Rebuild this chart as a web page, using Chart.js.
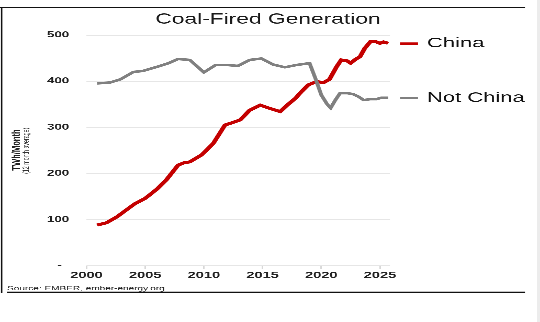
<!DOCTYPE html>
<html>
<head>
<meta charset="utf-8">
<title>Coal-Fired Generation</title>
<script src="https://cdn.jsdelivr.net/npm/chart.js@4.4.1/dist/chart.umd.min.js"></script>
<style>
  html, body { margin: 0; padding: 0; background: #fff; }
  #frame { position: relative; width: 540px; height: 322px; overflow: hidden; background: #fff; }
  #frame::after { content: ""; position: absolute; top: 0; right: 0; width: 3px; height: 322px; background: #ececec; }
  /* the source picture is stretched sideways, so the chart is drawn narrow and widened */
  #stretch { width: 344px; height: 322px; transform: scaleX(1.5698); transform-origin: 0 0; }
</style>
</head>
<body>
<div id="frame"><div id="stretch"><canvas id="chart"></canvas></div></div>
<script>
// ---- data (TWh per month, 12 month average) ----
const titleText = "Coal-Fired Generation";
const sourceText = "Source: EMBER, ember-energy.org";
const yTitle = "TWh/Month";
const ySubTitle = "(12 month average)";

const chinaName = "China";
const chinaYears = [2000.9, 2001.7, 2002.6, 2003.4, 2004.1, 2005.0, 2006.0, 2006.8, 2007.8, 2008.3,
  2008.8, 2009.8, 2010.8, 2011.8, 2012.3, 2013.1, 2013.9, 2014.8, 2015.6, 2016.5,
  2017.1, 2017.8, 2018.3, 2018.9, 2019.6, 2020.2, 2020.7, 2021.3, 2021.7, 2022.2,
  2022.5, 2022.9, 2023.3, 2023.7, 2024.2, 2024.6, 2025.0, 2025.3, 2025.7];
const chinaValues = [88, 93, 106, 121, 134, 146, 166, 186, 218, 223,
  225, 240, 265, 305, 309, 316, 337, 348, 341, 334,
  348, 363, 377, 392, 399, 397, 404, 431, 446, 444,
  439, 447, 453, 471, 486, 486, 482, 485, 482];

const otherName = "Not China";
const otherYears = [2000.9, 2002.0, 2002.9, 2004.0, 2004.8, 2006.0, 2007.0, 2007.8, 2008.8, 2010.0,
  2011.0, 2012.0, 2012.9, 2013.9, 2014.9, 2015.9, 2016.9, 2017.9, 2019.0, 2019.5,
  2020.0, 2020.5, 2020.8, 2021.2, 2021.6, 2022.2, 2022.7, 2023.2, 2023.6, 2024.2,
  2024.7, 2025.1, 2025.7];
const otherValues = [395, 397, 404, 420, 422, 431, 439, 448, 446, 419,
  435, 435, 433, 446, 449, 436, 430, 435, 439, 406,
  370, 350, 342, 359, 374, 374, 372, 366, 359, 361,
  361, 364, 364];

const xTicks = [2000, 2005, 2010, 2015, 2020, 2025];
const yTicks = [0, 100, 200, 300, 400, 500];
const yTickLabels = ["-  ", "100", "200", "300", "400", "500"];

const chinaColor = "#c40000";
const otherColor = "#808080";
const FONT = '"Liberation Sans", Arial, sans-serif';

// ---- titles, end labels, frame ----
const extras = {
  id: "extras",
  afterDraw(chart) {
    const ctx = chart.ctx;
    const area = chart.chartArea;
    const y = chart.scales.y;
    ctx.save();

    // frame
    ctx.strokeStyle = "#111";
    ctx.lineWidth = 1.4;
    ctx.beginPath();
    ctx.moveTo(0, 7.5); ctx.lineTo(334.4, 7.5);
    ctx.moveTo(4.4, 292.3); ctx.lineTo(334.4, 292.3);
    ctx.stroke();
    ctx.fillStyle = "#111";
    ctx.fillRect(0.6, 7, 0.9, 286);

    // title
    ctx.fillStyle = "#1a1a1a";
    ctx.font = "14.5px " + FONT;
    ctx.textAlign = "center";
    ctx.textBaseline = "middle";
    ctx.fillText(titleText, 170.7, 19.5);

    // y title (rotated)
    ctx.save();
    ctx.translate(10.5, 150);
    ctx.rotate(-Math.PI / 2);
    ctx.font = "bold 7.6px " + FONT;
    ctx.fillStyle = "#222";
    ctx.fillText(yTitle, 0, 0);
    ctx.restore();
    ctx.save();
    ctx.translate(16.8, 150.8);
    ctx.rotate(-Math.PI / 2);
    ctx.font = "5.3px " + FONT;
    ctx.fillStyle = "#333";
    ctx.fillText(ySubTitle, 0, 0);
    ctx.restore();

    // source
    ctx.textAlign = "left";
    ctx.font = "6.4px " + FONT;
    ctx.fillStyle = "#222";
    ctx.fillText(sourceText, 4.5, 288.6);

    // series names at the end of each line
    ctx.beginPath();
    ctx.rect(0, 0, 334.4, 322);
    ctx.clip();
    const ends = [
      [chinaName, chinaColor, chinaValues[chinaValues.length - 1], 2.3],
      [otherName, otherColor, otherValues[otherValues.length - 1], 2]
    ];
    ends.forEach(function (e) {
      const py = y.getPixelForValue(e[2]) + 0.3;
      ctx.strokeStyle = e[1];
      ctx.lineWidth = e[3];
      ctx.beginPath();
      ctx.moveTo(area.right + 6.4, py);
      ctx.lineTo(area.right + 17.9, py);
      ctx.stroke();
      ctx.fillStyle = "#111";
      ctx.font = "14px " + FONT;
      ctx.fillText(e[0], area.right + 23.6, py);
    });
    ctx.restore();
  }
};

new Chart(document.getElementById("chart"), {
  type: "line",
  data: {
    datasets: [
      {
        label: otherName,
        data: otherYears.map((x, i) => ({ x: x, y: otherValues[i] })),
        borderColor: otherColor,
        borderWidth: 2.5,
        pointRadius: 0,
        tension: 0
      },
      {
        label: chinaName,
        data: chinaYears.map((x, i) => ({ x: x, y: chinaValues[i] })),
        borderColor: chinaColor,
        borderWidth: 3,
        pointRadius: 0,
        tension: 0
      }
    ]
  },
  options: {
    responsive: true,
    maintainAspectRatio: false,
    animation: false,
    devicePixelRatio: 3,
    layout: { padding: { top: 35, right: 95.6, bottom: 36.3, left: 0 } },
    plugins: {
      legend: { display: false },
      title: { display: false },
      tooltip: { enabled: false }
    },
    scales: {
      x: {
        type: "linear",
        min: 2000,
        max: 2025.85,
        afterFit: (s) => { s.height = 20; },
        afterBuildTicks: (s) => { s.ticks = xTicks.map(v => ({ value: v })); },
        ticks: {
          autoSkip: false,
          maxRotation: 0,
          padding: 1,
          color: "#222",
          font: { family: FONT, size: 9.3, weight: "bold" },
          callback: (v) => String(v)
        },
        grid: { drawOnChartArea: false, drawTicks: true, tickLength: 3, color: "#d8d8d8" },
        border: { display: false }
      },
      y: {
        min: 0,
        max: 500,
        afterFit: (s) => { s.width = 55.1; },
        afterBuildTicks: (s) => { s.ticks = yTicks.map(v => ({ value: v })); },
        ticks: {
          padding: 11,
          color: "#222",
          font: { family: FONT, size: 8.5, weight: "bold" },
          callback: (v) => yTickLabels[yTicks.indexOf(v)]
        },
        grid: { drawTicks: false, color: "#e6e6e6", lineWidth: 1 },
        border: { display: false }
      }
    }
  },
  plugins: [extras]
});
</script>
</body>
</html>
